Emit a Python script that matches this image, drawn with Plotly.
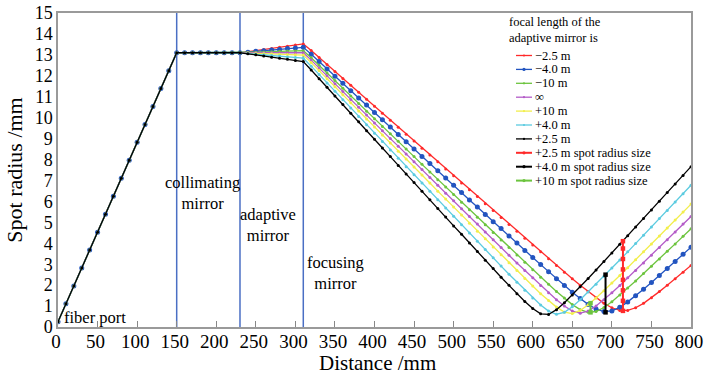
import plotly.graph_objects as go

# ---------------- data ----------------
distance_mm = list(range(0, 801, 10))

# shared part of every curve: fiber port -> collimating mirror -> adaptive mirror (0..230 mm)
common_radius = [0.25, 1.11, 1.96, 2.82, 3.68, 4.53, 5.39, 6.25, 7.10, 7.96, 8.82, 9.67,
                 10.53, 11.39, 12.24, 13.10, 13.10, 13.10, 13.10, 13.10, 13.10, 13.10,
                 13.10, 13.10]

# 240..800 mm for each focal length of the adaptive mirror
tail_m25 = [13.15, 13.20, 13.26, 13.31, 13.36, 13.41, 13.47, 13.52,
            13.21, 12.87, 12.54, 12.20, 11.87, 11.55, 11.21, 10.88, 10.55, 10.21,
            9.88, 9.54, 9.21, 8.88, 8.54, 8.22, 7.89, 7.55, 7.22, 6.88,
            6.56, 6.23, 5.89, 5.56, 5.23, 4.90, 4.58, 4.24, 3.92, 3.59,
            3.26, 2.94, 2.62, 2.30, 1.99, 1.69, 1.40, 1.13, 0.92, 0.79,
            0.79, 0.92, 1.13, 1.40, 1.69, 1.99, 2.30, 2.62, 2.94]
tail_m40 = [13.13, 13.17, 13.20, 13.23, 13.26, 13.30, 13.33, 13.36,
            13.03, 12.68, 12.33, 11.98, 11.64, 11.29, 10.94, 10.60, 10.25, 9.90,
            9.55, 9.20, 8.85, 8.50, 8.15, 7.81, 7.47, 7.12, 6.77, 6.42,
            6.07, 5.73, 5.38, 5.03, 4.70, 4.35, 4.01, 3.66, 3.32, 2.98,
            2.64, 2.31, 1.98, 1.66, 1.36, 1.08, 0.86, 0.74, 0.77, 0.94,
            1.20, 1.49, 1.80, 2.13, 2.46, 2.79, 3.13, 3.47, 3.81]
tail_m10 = [13.11, 13.13, 13.14, 13.15, 13.17, 13.18, 13.19, 13.20,
            12.86, 12.50, 12.13, 11.77, 11.40, 11.04, 10.68, 10.31, 9.95, 9.58,
            9.23, 8.87, 8.50, 8.14, 7.77, 7.41, 7.04, 6.69, 6.33, 5.96,
            5.60, 5.24, 4.88, 4.52, 4.16, 3.80, 3.44, 3.09, 2.73, 2.38,
            2.04, 1.70, 1.38, 1.07, 0.83, 0.70, 0.74, 0.93, 1.21, 1.53,
            1.86, 2.20, 2.56, 2.90, 3.25, 3.62, 3.97, 4.34, 4.69]
tail_inf = [13.10, 13.10, 13.10, 13.10, 13.10, 13.10, 13.10, 13.10,
            12.75, 12.37, 12.00, 11.62, 11.25, 10.87, 10.50, 10.13, 9.75, 9.38,
            9.00, 8.64, 8.26, 7.89, 7.52, 7.14, 6.77, 6.39, 6.03, 5.65,
            5.28, 4.92, 4.54, 4.17, 3.80, 3.43, 3.06, 2.70, 2.35, 1.98,
            1.64, 1.30, 1.00, 0.76, 0.66, 0.76, 1.00, 1.30, 1.64, 1.98,
            2.35, 2.70, 3.06, 3.43, 3.80, 4.17, 4.54, 4.92, 5.28]
tail_p10 = [13.09, 13.07, 13.06, 13.05, 13.03, 13.02, 13.01, 12.99,
            12.63, 12.25, 11.86, 11.48, 11.09, 10.71, 10.32, 9.94, 9.56, 9.17,
            8.79, 8.40, 8.03, 7.64, 7.26, 6.88, 6.49, 6.11, 5.73, 5.35,
            4.96, 4.58, 4.21, 3.82, 3.45, 3.07, 2.70, 2.32, 1.96, 1.59,
            1.26, 0.95, 0.71, 0.64, 0.79, 1.06, 1.39, 1.73, 2.10, 2.46,
            2.83, 3.21, 3.59, 3.97, 4.35, 4.73, 5.11, 5.49, 5.87]
tail_p40 = [13.07, 13.03, 13.00, 12.97, 12.94, 12.90, 12.87, 12.84,
            12.46, 12.06, 11.66, 11.26, 10.86, 10.46, 10.06, 9.66, 9.26, 8.86,
            8.46, 8.06, 7.66, 7.27, 6.88, 6.48, 6.08, 5.68, 5.29, 4.89,
            4.49, 4.10, 3.70, 3.31, 2.91, 2.52, 2.14, 1.76, 1.39, 1.05,
            0.76, 0.61, 0.70, 0.97, 1.30, 1.67, 2.04, 2.43, 2.82, 3.20,
            3.59, 3.99, 4.38, 4.78, 5.18, 5.57, 5.97, 6.37, 6.77]
tail_p25 = [13.05, 13.00, 12.94, 12.89, 12.84, 12.79, 12.73, 12.68,
            12.28, 11.86, 11.45, 11.04, 10.63, 10.21, 9.80, 9.38, 8.97, 8.55,
            8.14, 7.72, 7.31, 6.90, 6.49, 6.08, 5.66, 5.25, 4.83, 4.43,
            4.01, 3.61, 3.19, 2.79, 2.38, 1.99, 1.59, 1.22, 0.88, 0.63,
            0.60, 0.83, 1.16, 1.53, 1.92, 2.32, 2.72, 3.13, 3.54, 3.95,
            4.36, 4.78, 5.18, 5.59, 6.01, 6.42, 6.83, 7.24, 7.66]

series_names = ["\u22122.5 m", "\u22124.0 m", "\u221210 m", "\u221e", "+10 m", "+4.0 m", "+2.5 m"]
series_tails = [tail_m25, tail_m40, tail_m10, tail_inf, tail_p10, tail_p40, tail_p25]

# spot radius size markers (vertical segments)
spot_names = ["+2.5 m spot radius size", "+4.0 m spot radius size", "+10 m spot radius size"]
spot_distance = [714, 692, 673]
spot_radius = [[0.77, 1.25, 1.75, 2.25, 2.75, 3.25, 3.75, 4.10],
               [0.70, 2.50],
               [0.70, 1.14]]

mirror_distance = [150, 230, 310]

# ---------------- styles ----------------
series_colors = ["#ff2a2a", "#2254c0", "#6cc43e", "#b45cc8", "#f2ee4c", "#5ccbe0", "#000000"]
series_marker_size = [3, 5, 3, 3, 3, 3, 3]
spot_colors = ["#ff2a2a", "#000000", "#6cc43e"]

FONT = "Times New Roman"

W, H = 705, 375
PL, PR, PT, PB = 58, 691, 13, 327          # plot area in pixels

def px(xp):
    return (xp - PL) / (PR - PL)

def py(yp):
    return (PB - yp) / (PB - PT)

fig = go.Figure()

for name, tail, color, msize in zip(series_names, series_tails, series_colors, series_marker_size):
    fig.add_trace(go.Scatter(
        x=distance_mm, y=common_radius + tail, name=name, mode="lines+markers",
        line=dict(color=color, width=1.3),
        marker=dict(color=color, size=msize, symbol="circle"),
        showlegend=False))

for name, xpos, radii, color in zip(spot_names, spot_distance, spot_radius, spot_colors):
    fig.add_trace(go.Scatter(
        x=[xpos] * len(radii), y=radii, name=name, mode="lines+markers",
        line=dict(color=color, width=2),
        marker=dict(color=color, size=4.5, symbol="square"),
        showlegend=False))

# mirror positions
for xm in mirror_distance:
    fig.add_shape(type="line", xref="x", yref="y", x0=xm, x1=xm, y0=0, y1=15,
                  line=dict(color="#4a6fc4", width=1.5), layer="below")

# text labels
notes = [
    ("fiber port", 5, 0.45, "left"),
    ("collimating<br>mirror", 182, 6.4, "center"),
    ("adaptive<br>mirror", 266, 4.85, "center"),
    ("focusing<br>mirror", 351, 2.6, "center"),
]
for text, xa, ya, anchor in notes:
    fig.add_annotation(x=xa, y=ya, xref="x", yref="y", text=text, showarrow=False,
                       xanchor=anchor, yanchor="middle", align="center",
                       font=dict(family=FONT, size=16.5, color="black"))

# ---------------- compact legend (paper coordinates) ----------------
fig.add_annotation(x=px(507), y=py(30), xref="paper", yref="paper", showarrow=False,
                   text="focal length of the<br>adaptive mirror is", xanchor="left",
                   yanchor="middle", align="left",
                   font=dict(family=FONT, size=12.5, color="black"))

legend_names = series_names + spot_names
legend_colors = series_colors + spot_colors
legend_msize = [2.2, 3.2, 2.2, 2.2, 2.2, 2.2, 2.2, 3.2, 3.2, 3.2]
legend_lw = [1.3] * 7 + [2] * 3
for i, (nm, col, ms, lw) in enumerate(zip(legend_names, legend_colors, legend_msize, legend_lw)):
    yc = 55.5 + 13.9 * i
    fig.add_shape(type="line", xref="paper", yref="paper", x0=px(516), x1=px(532),
                  y0=py(yc), y1=py(yc), line=dict(color=col, width=lw))
    fig.add_shape(type="circle", xref="paper", yref="paper",
                  x0=px(524 - ms / 2), x1=px(524 + ms / 2),
                  y0=py(yc + ms / 2), y1=py(yc - ms / 2),
                  fillcolor=col, line=dict(color=col, width=0))
    fig.add_annotation(x=px(533), y=py(yc), xref="paper", yref="paper", showarrow=False,
                       text=nm, xanchor="left", yanchor="middle",
                       font=dict(family=FONT, size=12.5, color="black"))

# x axis title (placed precisely below the tick labels)
fig.add_annotation(x=px(377), y=py(363), xref="paper", yref="paper", showarrow=False,
                   text="Distance /mm", xanchor="center", yanchor="middle",
                   font=dict(family=FONT, size=21, color="black"))

fig.update_layout(
    template="none",
    width=W, height=H,
    margin=dict(l=PL, r=W - PR, t=PT, b=H - PB, autoexpand=False),
    paper_bgcolor="white", plot_bgcolor="white",
    font=dict(family=FONT, color="black"),
    showlegend=False,
)
fig.update_xaxes(
    range=[0, 800], dtick=50, tick0=0, ticks="inside", ticklen=6, tickcolor="#888",
    showline=True, linecolor="#9a9a9a", linewidth=1.5, mirror=True,
    showgrid=False, zeroline=False, ticklabeloverflow="allow", automargin=False,
    ticklabelstandoff=-4, ticklabelshift=-2,
    tickfont=dict(family=FONT, size=19, color="black"),
)
fig.update_yaxes(
    range=[0, 15], dtick=1, tick0=0, ticks="",
    showline=True, linecolor="#9a9a9a", linewidth=1.5, mirror=True,
    showgrid=False, zeroline=False, automargin=False, ticklabeloverflow="allow",
    tickfont=dict(family=FONT, size=18, color="black"),
    title=dict(text="Spot radius /mm", font=dict(family=FONT, size=22, color="black"), standoff=6),
)

# remove the default page margin so the 705x375 figure fills the window exactly
fig.write_html("out.html",
               config={"displayModeBar": False},
               post_script="document.body.style.margin='0';document.body.style.overflow='hidden';")
